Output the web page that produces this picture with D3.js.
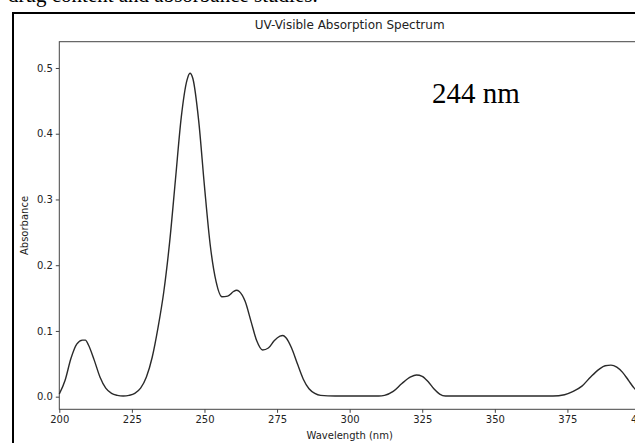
<!DOCTYPE html>
<html>
<head>
<meta charset="utf-8">
<script src="https://cdn.jsdelivr.net/npm/d3@7"></script>
<style>
  body { margin: 0; background: #fff; overflow: hidden; }
  svg { display: block; }
</style>
</head>
<body>
<div id="spectrum"></div>
<script>

// spectrum data (wavelength in nm, absorbance)
const wavelengths = [200, 202, 204, 206, 208, 209, 210, 212, 214, 216, 218, 220, 222, 224, 226, 228,
  230, 232, 234, 236, 238, 240, 242, 244, 245, 246, 248, 250, 252, 254, 256, 258, 260, 261, 262,
  264, 266, 268, 270, 272, 274, 276, 277, 278, 280, 282, 284, 286, 288, 290, 295, 300, 305, 310,
  312, 315, 318, 321, 323, 325, 327, 329, 331, 333, 336, 345, 355, 365, 370, 374, 377, 380, 383,
  386, 388, 390, 392, 394, 396, 398, 400];
const absorbance = [0.004, 0.025, 0.058, 0.080, 0.086, 0.086, 0.079, 0.056, 0.030, 0.013, 0.005, 0.002, 0.001, 0.002, 0.005, 0.013,
  0.030, 0.060, 0.105, 0.160, 0.235, 0.330, 0.425, 0.482, 0.492, 0.484, 0.420, 0.320, 0.230, 0.175, 0.152, 0.153, 0.160, 0.162, 0.160,
  0.145, 0.115, 0.085, 0.071, 0.074, 0.085, 0.092, 0.093, 0.090, 0.074, 0.050, 0.027, 0.012, 0.005, 0.002, 0.001, 0.001, 0.001, 0.001,
  0.002, 0.008, 0.020, 0.030, 0.033, 0.031, 0.023, 0.012, 0.004, 0.001, 0.001, 0.001, 0.001, 0.001, 0.001, 0.003, 0.008, 0.016, 0.030,
  0.042, 0.047, 0.048, 0.045, 0.037, 0.025, 0.013, 0.006];

const xTicks = [200, 225, 250, 275, 300, 325, 350, 375, 400];
const yTicks = [0.0, 0.1, 0.2, 0.3, 0.4, 0.5];

const width = 635;
const height = 443;
const margin = {left: 59.3, top: 41.7, right: 640, bottom: 409.3};

const svg = d3
  .select("#spectrum")
  .append("svg")
  .attr("width", width)
  .attr("height", height);

// bit of the document text above the figure, cut by the crop
svg.append("text")
  .attr("x", 8)
  .attr("y", 1.5)
  .attr("font-family", "Liberation Serif, serif")
  .attr("font-size", "21px")
  .attr("fill", "#000")
  .text("drug content and absorbance studies.");

// outer frame round the figure
svg.append("rect")
  .attr("x", 13)
  .attr("y", 13)
  .attr("width", 700)
  .attr("height", 500)
  .attr("fill", "none")
  .attr("stroke", "#000")
  .attr("stroke-width", 2);

/*
  Scales
*/
let xScale = d3.scaleLinear()
  .domain([200, 400])
  .range([margin.left, margin.right]);

let yScale = d3.scaleLinear()
  .domain([-0.0192, 0.540])
  .range([margin.bottom, margin.top]);

// axes
const xAxis = svg.append("g")
  .attr("transform", `translate(0,${margin.bottom})`)
  .call(d3.axisBottom(xScale).tickValues(xTicks).tickFormat(d3.format("d")).tickSizeOuter(0).tickSize(3.5).tickPadding(3));

const yAxis = svg.append("g")
  .attr("transform", `translate(${margin.left},0)`)
  .call(d3.axisLeft(yScale).tickValues(yTicks).tickFormat(d3.format(".1f")).tickSizeOuter(0).tickSize(3.5).tickPadding(3));

[xAxis, yAxis].forEach(g => {
  g.selectAll("text")
    .attr("font-family", "DejaVu Sans, sans-serif")
    .attr("font-size", "10px")
    .attr("fill", "#222");
  g.selectAll(".tick line").attr("stroke", "#444");
  g.select(".domain").remove();
});

// plot frame (spines)
svg.append("rect")
  .attr("x", margin.left)
  .attr("y", margin.top)
  .attr("width", margin.right - margin.left)
  .attr("height", margin.bottom - margin.top)
  .attr("fill", "none")
  .attr("stroke", "#444")
  .attr("stroke-width", 1);

// the spectrum line
const points = wavelengths.map((w, i) => ({w: w, a: absorbance[i]}));

const line = d3.line()
  .x(d => xScale(d.w))
  .y(d => yScale(d.a))
  .curve(d3.curveMonotoneX);

svg.append("path")
  .datum(points)
  .attr("fill", "none")
  .attr("stroke", "#2a2a2a")
  .attr("stroke-width", 1.4)
  .attr("d", line);

// titles and labels
svg.append("text")
  .attr("x", (margin.left + margin.right) / 2)
  .attr("y", 29)
  .attr("text-anchor", "middle")
  .attr("font-family", "DejaVu Sans, sans-serif")
  .attr("font-size", "12px")
  .attr("fill", "#222")
  .text("UV-Visible Absorption Spectrum");

svg.append("text")
  .attr("x", (margin.left + margin.right) / 2)
  .attr("y", 439)
  .attr("text-anchor", "middle")
  .attr("font-family", "DejaVu Sans, sans-serif")
  .attr("font-size", "10px")
  .attr("fill", "#222")
  .text("Wavelength (nm)");

svg.append("text")
  .attr("transform", `translate(28,${(margin.top + margin.bottom) / 2}) rotate(-90)`)
  .attr("text-anchor", "middle")
  .attr("font-family", "DejaVu Sans, sans-serif")
  .attr("font-size", "10px")
  .attr("fill", "#222")
  .text("Absorbance");

// peak annotation
svg.append("text")
  .attr("x", 432)
  .attr("y", 103)
  .attr("font-family", "Liberation Serif, serif")
  .attr("font-size", "29px")
  .attr("fill", "#000")
  .text("244 nm");

</script>
</body>
</html>
